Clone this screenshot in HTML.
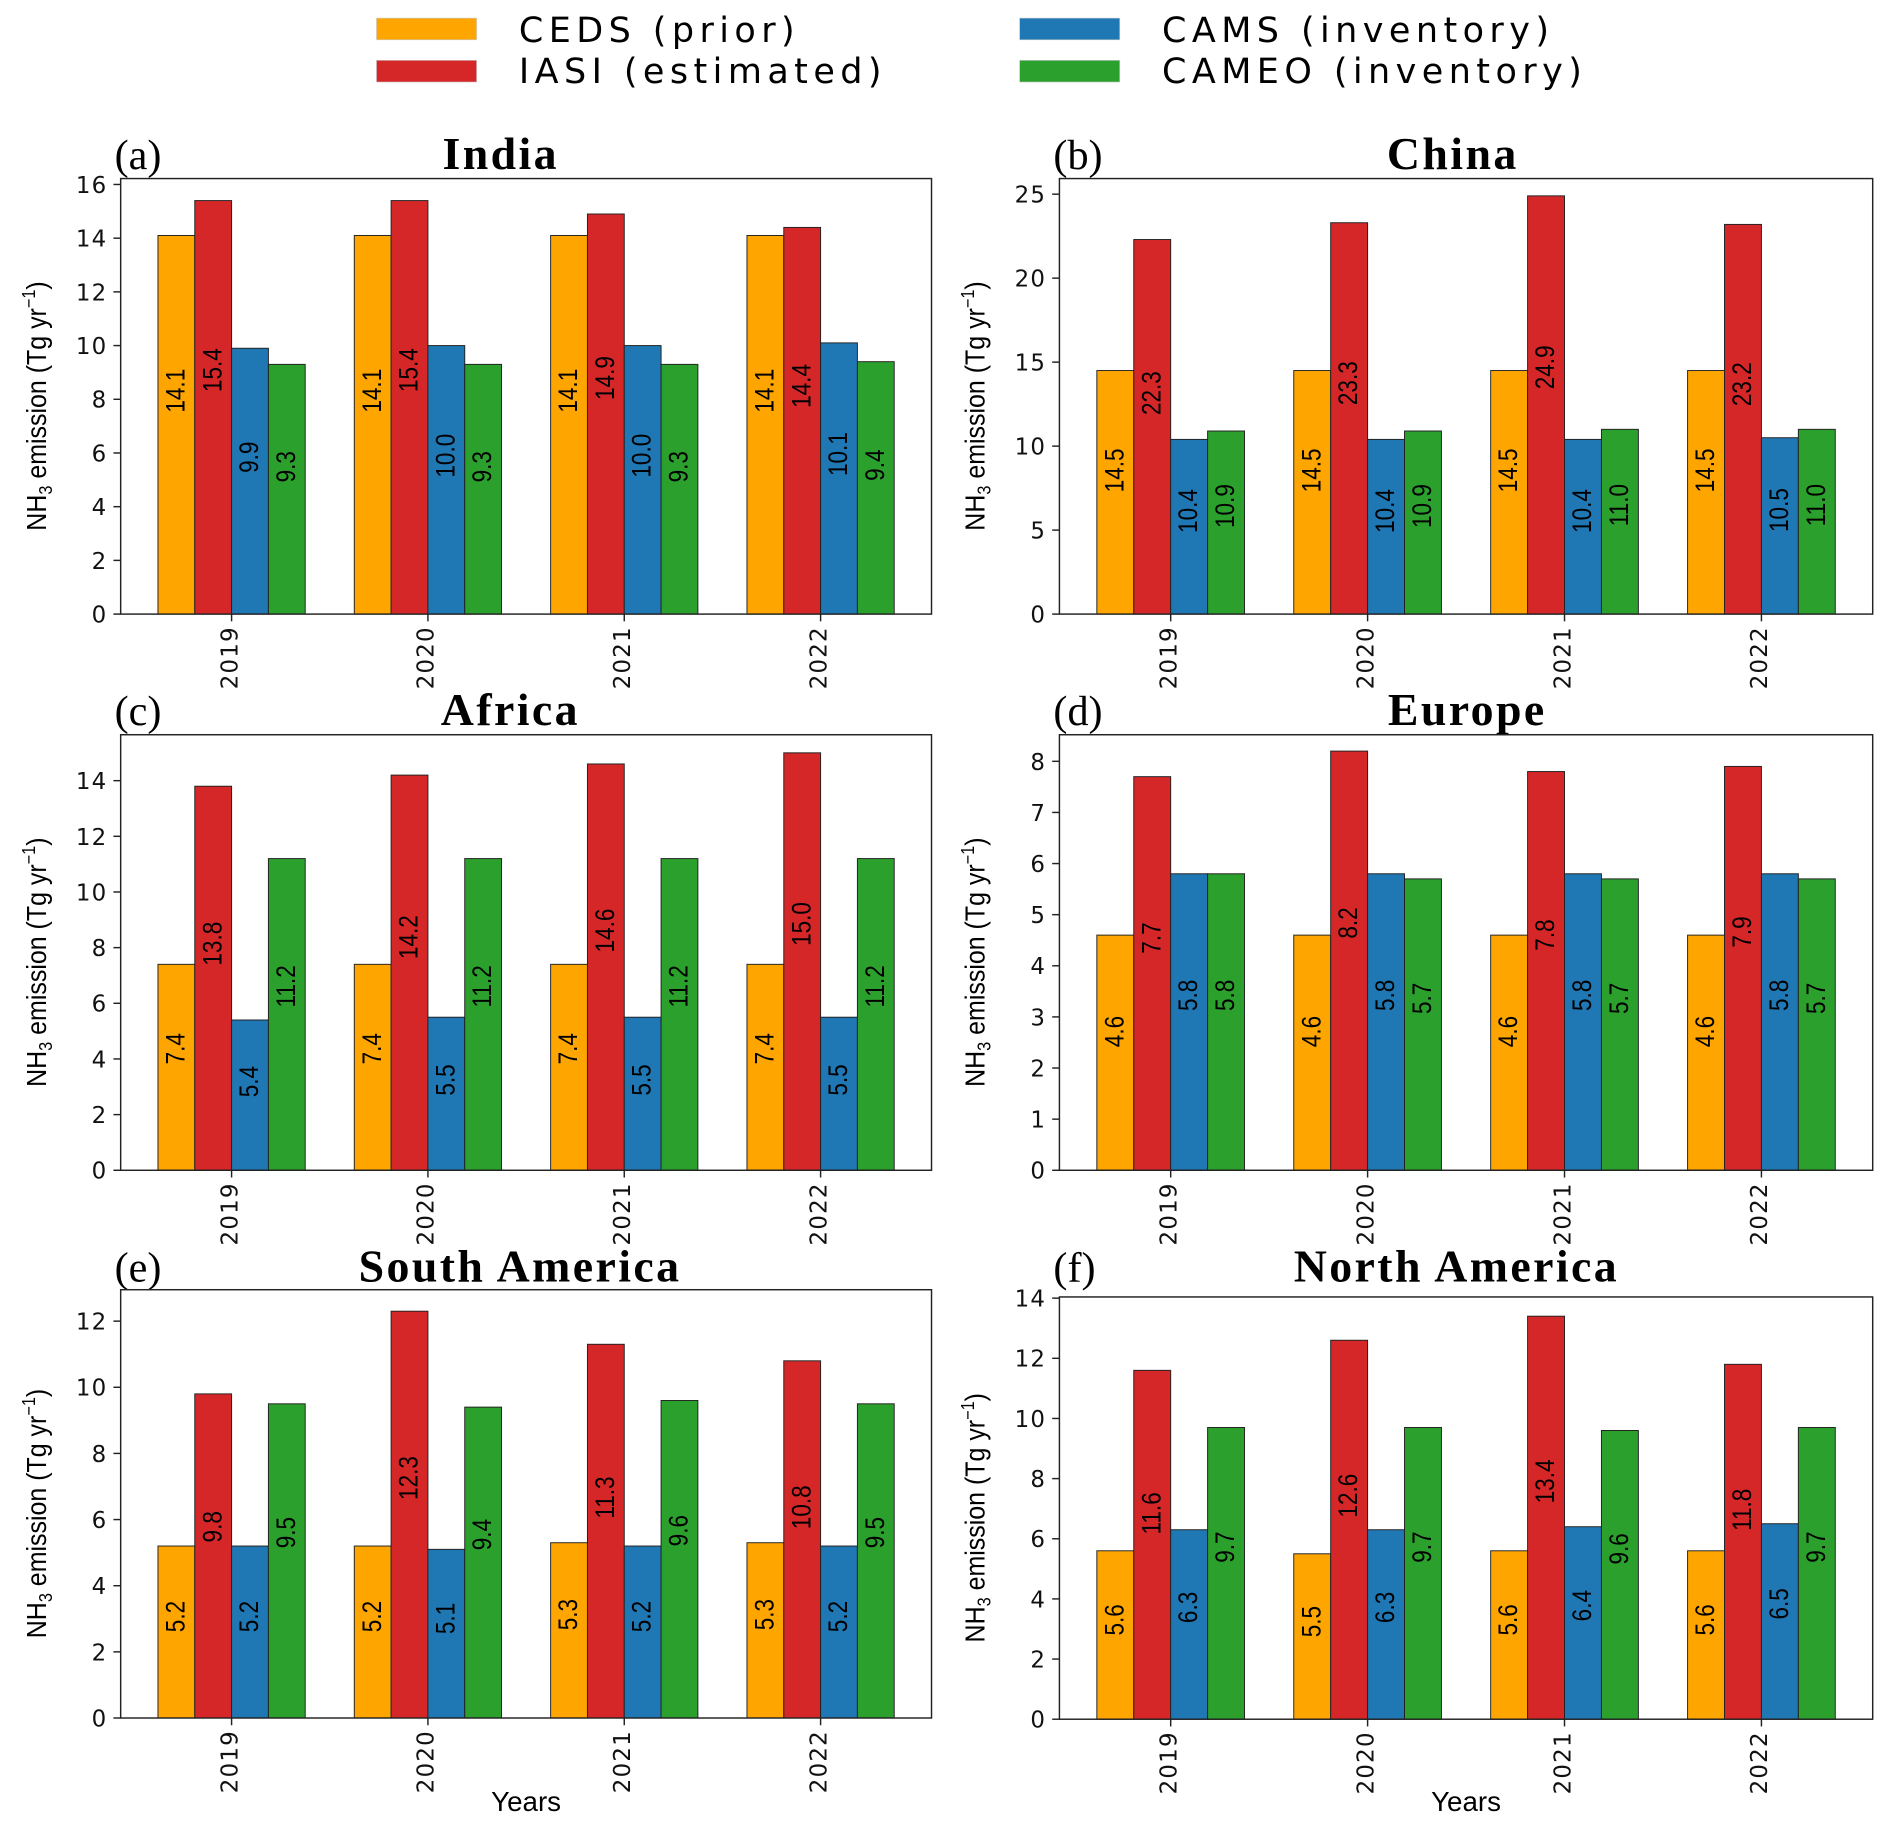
<!DOCTYPE html>
<html><head><meta charset="utf-8"><style>
html,body{margin:0;padding:0;background:#fff;}
svg{display:block;}
.tick{font-family:"DejaVu Sans","Liberation Sans",sans-serif;font-size:19px;fill:#111;letter-spacing:1px}
.val{font-family:"Liberation Sans",sans-serif;font-size:22px;fill:#000}
.ttl{font-family:"Liberation Serif","DejaVu Serif",serif;font-weight:bold;font-size:38px;fill:#000;letter-spacing:2px}
.pl{font-family:"Liberation Serif","DejaVu Serif",serif;font-size:35px;fill:#000}
.yl{font-family:"Liberation Sans",sans-serif;font-size:23px;fill:#000}
.leg{font-family:"DejaVu Sans","Liberation Sans",sans-serif;font-size:29px;fill:#000;letter-spacing:4.5px}
</style></head><body>
<svg id="chart" width="1892" height="1829" viewBox="0 0 1568 1516" preserveAspectRatio="none" xmlns="http://www.w3.org/2000/svg">
<g>
<rect x="312" y="15" width="83" height="18" fill="#FFA500" stroke="#ccc" stroke-width="0.5"/>
<text class="leg" x="430" y="35">CEDS (prior)</text>
<rect x="312" y="50" width="83" height="18" fill="#D62728" stroke="#ccc" stroke-width="0.5"/>
<text class="leg" x="430" y="69">IASI (estimated)</text>
<rect x="845" y="15" width="83" height="18" fill="#1F77B4" stroke="#ccc" stroke-width="0.5"/>
<text class="leg" x="963" y="35">CAMS (inventory)</text>
<rect x="845" y="50" width="83" height="18" fill="#2CA02C" stroke="#ccc" stroke-width="0.5"/>
<text class="leg" x="963" y="69">CAMEO (inventory)</text>
</g>
</svg>
<script>
const years = ["2019","2020","2021","2022"];
const seriesNames = ["CEDS (prior)","IASI (estimated)","CAMS (inventory)","CAMEO (inventory)"];
const indiaCeds=[14.1,14.1,14.1,14.1], indiaIasi=[15.4,15.4,14.9,14.4], indiaCams=[9.9,10.0,10.0,10.1], indiaCameo=[9.3,9.3,9.3,9.4];
const chinaCeds=[14.5,14.5,14.5,14.5], chinaIasi=[22.3,23.3,24.9,23.2], chinaCams=[10.4,10.4,10.4,10.5], chinaCameo=[10.9,10.9,11.0,11.0];
const africaCeds=[7.4,7.4,7.4,7.4], africaIasi=[13.8,14.2,14.6,15.0], africaCams=[5.4,5.5,5.5,5.5], africaCameo=[11.2,11.2,11.2,11.2];
const europeCeds=[4.6,4.6,4.6,4.6], europeIasi=[7.7,8.2,7.8,7.9], europeCams=[5.8,5.8,5.8,5.8], europeCameo=[5.8,5.7,5.7,5.7];
const samCeds=[5.2,5.2,5.3,5.3], samIasi=[9.8,12.3,11.3,10.8], samCams=[5.2,5.1,5.2,5.2], samCameo=[9.5,9.4,9.6,9.5];
const namCeds=[5.6,5.5,5.6,5.6], namIasi=[11.6,12.6,13.4,11.8], namCams=[6.3,6.3,6.4,6.5], namCameo=[9.7,9.7,9.6,9.7];
const indiaTicks=[0,2,4,6,8,10,12,14,16], chinaTicks=[0,5,10,15,20,25], africaTicks=[0,2,4,6,8,10,12,14];
const europeTicks=[0,1,2,3,4,5,6,7,8], samTicks=[0,2,4,6,8,10,12], namTicks=[0,2,4,6,8,10,12,14];
const colors=["#FFA500","#D62728","#1F77B4","#2CA02C"];
const NS="http://www.w3.org/2000/svg";
const svg=document.getElementById('chart');
function mk(tag,attrs,parent){const e=document.createElementNS(NS,tag);for(const k in attrs)e.setAttribute(k,attrs[k]);(parent||svg).appendChild(e);return e;}
const panels=[
 {key:"india",title:"India",letter:"(a)",L:100,R:772,T:148,B:509,ymax:16.22,ticks:indiaTicks,data:[indiaCeds,indiaIasi,indiaCams,indiaCameo],titleX:415,titleY:140,years:false},
 {key:"china",title:"China",letter:"(b)",L:878,R:1552,T:148,B:509,ymax:25.93,ticks:chinaTicks,data:[chinaCeds,chinaIasi,chinaCams,chinaCameo],titleX:1204,titleY:140,years:false},
 {key:"africa",title:"Africa",letter:"(c)",L:100,R:772,T:609,B:970,ymax:15.65,ticks:africaTicks,data:[africaCeds,africaIasi,africaCams,africaCameo],titleX:423,titleY:601,years:false},
 {key:"europe",title:"Europe",letter:"(d)",L:878,R:1552,T:609,B:970,ymax:8.52,ticks:europeTicks,data:[europeCeds,europeIasi,europeCams,europeCameo],titleX:1216,titleY:601,years:false},
 {key:"south-america",title:"South America",letter:"(e)",L:100,R:772,T:1069,B:1424,ymax:12.95,ticks:samTicks,data:[samCeds,samIasi,samCams,samCameo],titleX:431,titleY:1062,years:true},
 {key:"north-america",title:"North America",letter:"(f)",L:878,R:1552,T:1075,B:1425,ymax:14.04,ticks:namTicks,data:[namCeds,namIasi,namCams,namCameo],titleX:1207,titleY:1062,years:true}
];
const xmin=-0.565,xmax=3.565,bw=0.1875;
panels.forEach(p=>{
 const g=mk('g',{});
 
 
 const xs=v=>p.L+(v-xmin)/(xmax-xmin)*(p.R-p.L);
 const ys=v=>p.B-v/p.ymax*(p.B-p.T);
 const t=mk('text',{x:p.titleX,y:p.titleY,'text-anchor':'middle',class:'ttl'},g);t.textContent=p.title;
 
 
 const lt=mk('text',{x:p.L-5,y:p.titleY,class:'pl'},g);lt.textContent=p.letter;
 
 
 p.data.forEach((arr,si)=>{
  arr.forEach((v,ci)=>{
   const x0=xs(ci+(si-2)*bw),x1=xs(ci+(si-1)*bw);
   const r=mk('rect',{x:x0,y:ys(v),width:x1-x0,height:ys(0)-ys(v),fill:colors[si],stroke:'#222','stroke-width':0.8},g);
   
   
   const cx=(x0+x1)/2, cy=ys(v*0.59);
   const tx=mk('text',{x:0,y:0,class:'val','text-anchor':'middle','dominant-baseline':'central',transform:`translate(${cx},${cy}) rotate(-90) scale(0.85,1)`},g);
   tx.textContent=v.toFixed(1);
   
   
  });
 });
 const fr=mk('rect',{x:p.L,y:p.T,width:p.R-p.L,height:p.B-p.T,fill:'none',stroke:'#222','stroke-width':1.2},g);
 
 
 p.ticks.forEach(tv=>{
  const y=ys(tv);
  mk('line',{x1:p.L-6,x2:p.L,y1:y,y2:y,stroke:'#222','stroke-width':1.2},g);
  const tl=mk('text',{x:p.L-11,y:y+7,'text-anchor':'end',class:'tick'},g);tl.textContent=tv;
  
  
 });
 years.forEach((yr,ci)=>{
  const x=xs(ci);
  mk('line',{x1:x,x2:x,y1:p.B,y2:p.B+6,stroke:'#222','stroke-width':1.2},g);
  const tl=mk('text',{x:0,y:0,class:'tick','text-anchor':'end','dominant-baseline':'central',transform:`translate(${x-1},${p.B+10}) rotate(-90)`},g);tl.textContent=yr;
  
  
 });
 const yl=mk('text',{x:0,y:0,class:'yl','text-anchor':'middle',transform:`translate(${p.L-62},${(p.T+p.B)/2+8}) rotate(-90) scale(0.9,1)`},g);
 yl.innerHTML='NH<tspan font-size="15" dy="5">3</tspan><tspan dy="-5"> emission (Tg yr</tspan><tspan font-size="15" dy="-9">−1</tspan><tspan dy="9">)</tspan>';
 
 
 if(p.years){
  const xl=mk('text',{x:(p.L+p.R)/2,y:1501,class:'yl','text-anchor':'middle'},g);xl.textContent='Years';
  
  
 }
});
</script>
</body></html>
